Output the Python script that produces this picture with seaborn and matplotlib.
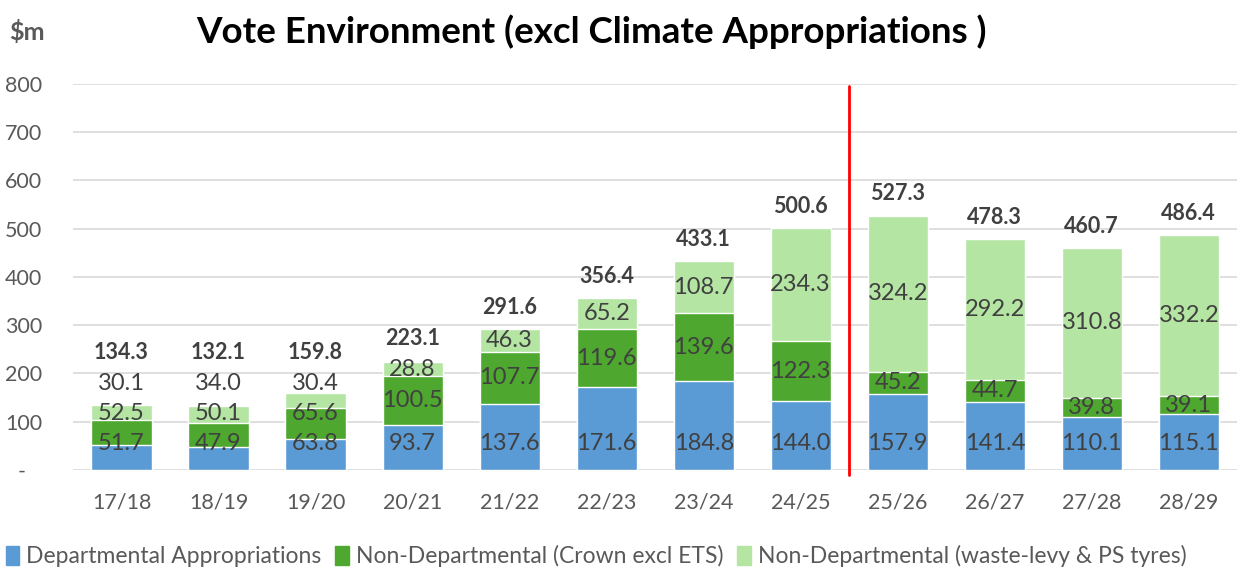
import numpy as np
import pandas as pd
import matplotlib
matplotlib.use("Agg")
import matplotlib.pyplot as plt
import seaborn as sns

years = ["17/18", "18/19", "19/20", "20/21", "21/22", "22/23",
         "23/24", "24/25", "25/26", "26/27", "27/28", "28/29"]
departmental = [51.7, 47.9, 63.8, 93.7, 137.6, 171.6, 184.8, 144.0, 157.9, 141.4, 110.1, 115.1]
crown_excl_ets = [52.5, 50.1, 65.6, 100.5, 107.7, 119.6, 139.6, 122.3, 45.2, 44.7, 39.8, 39.1]
waste_levy = [30.1, 34.0, 30.4, 28.8, 46.3, 65.2, 108.7, 234.3, 324.2, 292.2, 310.8, 332.2]
totals = [134.3, 132.1, 159.8, 223.1, 291.6, 356.4, 433.1, 500.6, 527.3, 478.3, 460.7, 486.4]
forecast_start = "25/26"

series_names = ["Departmental Appropriations",
                "Non-Departmental (Crown excl ETS)",
                "Non-Departmental (waste-levy & PS tyres)"]
colors = ["#5B9BD5", "#4EA72E", "#B4E5A2"]

df = pd.DataFrame({"year": years, "dep": departmental,
                   "crown": crown_excl_ets, "waste": waste_levy})
df["cum1"] = df["dep"]
df["cum2"] = df["dep"] + df["crown"]
df["cum3"] = df["cum2"] + df["waste"]

sns.set_theme(style="white")
plt.rcParams["font.family"] = ["Lato", "DejaVu Sans"]

fig = plt.figure(figsize=(12.46, 5.75), dpi=100)
ax = fig.add_axes([0.0586, 0.1826, 0.9344, 0.6714])

# stacked bars drawn as overlapping cumulative layers
for col, c in zip(["cum3", "cum2", "cum1"], colors[::-1]):
    sns.barplot(data=df, x="year", y=col, color=c, width=0.62,
                saturation=1, ax=ax, zorder=2)

ax.set_ylim(0, 800)
ax.set_yticks(np.arange(0, 801, 100))
ax.set_yticklabels(["-   "] + [str(v) for v in range(100, 801, 100)])
ax.yaxis.grid(True, color="#D9D9D9", lw=1.2, zorder=0)
ax.set_axisbelow(True)
for s in ax.spines.values():
    s.set_visible(False)
ax.set_xlabel("")
ax.set_ylabel("")
ax.tick_params(axis="y", length=0, pad=22, labelsize=15.5, labelcolor="#595959")
ax.tick_params(axis="x", length=0, pad=16, labelsize=15.5, labelcolor="#595959")
ax.set_xlim(-0.5, len(years) - 0.5)

# data labels (Excel style: blue inside base, others centred, pushed up if crowded)
txt_kw = dict(ha="center", va="center", fontsize=17, color="#404040", zorder=5)
base_y = 55
gap = 62
for i in range(len(years)):
    y1 = base_y
    ax.text(i, y1, f"{departmental[i]:.1f}", **txt_kw)
    y2 = max(departmental[i] + crown_excl_ets[i] / 2, y1 + gap)
    ax.text(i, y2, f"{crown_excl_ets[i]:.1f}", **txt_kw)
    y3 = max(df["cum2"][i] + waste_levy[i] / 2, y2 + gap)
    ax.text(i, y3, f"{waste_levy[i]:.1f}", **txt_kw)
    top = max(df["cum3"][i], y3 + 20)
    ax.annotate(f"{totals[i]:.1f}", (i, top), xytext=(0, 8),
                textcoords="offset points", ha="center", va="bottom",
                fontsize=15.5, fontweight="bold", color="#404040")

# forecast divider
xdiv = years.index(forecast_start) - 0.5
ax.plot([xdiv, xdiv], [-10, 795], color="#FF0000", lw=2, clip_on=False, zorder=6)

fig.text(0.475, 0.945, "Vote Environment (excl Climate Appropriations )",
         ha="center", va="center", fontsize=26.5, fontweight="bold", color="black")
fig.text(0.007, 0.945, "$m", ha="left", va="center", fontsize=18,
         fontweight="bold", color="#595959")

handles = [plt.Rectangle((0, 0), 1, 1, color=c) for c in colors]
fig.legend(handles, series_names, loc="lower left", bbox_to_anchor=(-0.012, -0.022),
           ncol=3, frameon=False, fontsize=16.5, handlelength=0.6, handleheight=0.9,
           handletextpad=0.3, columnspacing=0.6, labelcolor="#595959")

fig.savefig("out.png", dpi=100)
